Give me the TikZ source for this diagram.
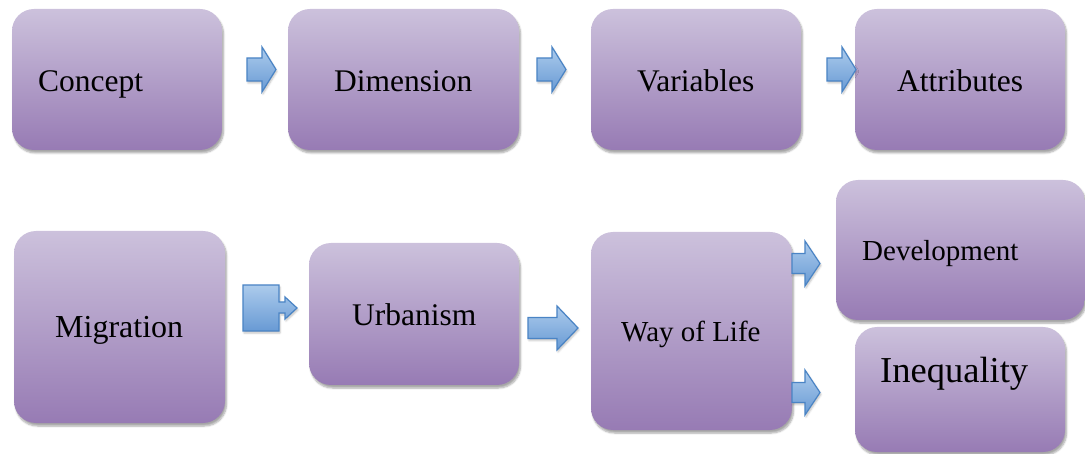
\documentclass[tikz,border=0pt]{standalone}
\usepackage{fontspec}
\setmainfont{Liberation Serif}
\newfontfamily\tnr{Liberation Serif}
\usetikzlibrary{shadows.blur}
\definecolor{boxtop}{RGB}{204,193,220}
\definecolor{boxbot}{RGB}{151,123,180}
\definecolor{arrtop}{RGB}{172,203,236}
\definecolor{arrbot}{RGB}{104,154,212}
\definecolor{arrline}{RGB}{74,132,197}
\newcommand\barr[6]{% x0, ymid, shaftlen, shafthalf, headlen, headhalf
  \path[barrow] (#1,#2-#4) -- (#1+#3,#2-#4) -- (#1+#3,#2-#6) -- (#1+#3+#5,#2)
    -- (#1+#3,#2+#6) -- (#1+#3,#2+#4) -- (#1,#2+#4) -- cycle;}
\begin{document}
\begin{tikzpicture}[x=1pt,y=-1pt,
  card/.style={rounded corners=22pt, top color=boxtop, bottom color=boxbot,
    draw=none, inner sep=0pt,
    blur shadow={shadow xshift=1.5pt, shadow yshift=-3pt, shadow blur steps=6, shadow opacity=35}},
  lbl/.style={anchor=base west, inner sep=0pt},
  barrow/.style={top color=arrtop, bottom color=arrbot, draw=arrline, line width=1.2pt,
    line join=miter,
    blur shadow={shadow xshift=1pt, shadow yshift=-2pt, shadow blur steps=4, shadow opacity=25}}]
\useasboundingbox (0,0) rectangle (1085,454);
% top row
\node[card, minimum width=210pt, minimum height=141pt] (concept) at (117,79.5) {};
\node[card, minimum width=231pt, minimum height=141pt] (dimension) at (403.5,79.5) {};
\node[card, minimum width=210pt, minimum height=141pt] (variables) at (696,79.5) {};
\node[card, minimum width=210pt, minimum height=141pt] (attributes) at (960,79.5) {};
\node[lbl, font=\tnr\fontsize{31.5}{36}\selectfont] (tconcept) at (38,92) {Concept};
\node[lbl, font=\tnr\fontsize{31.5}{36}\selectfont] (tdimension) at (334,92) {Dimension};
\node[lbl, font=\tnr\fontsize{31.5}{36}\selectfont] (tvariables) at (637,92) {Variables};
\node[lbl, font=\tnr\fontsize{31.5}{36}\selectfont] (tattributes) at (897,92) {Attributes};
\barr{247}{69.5}{15}{11.5}{14}{22.5}
\barr{537}{69.5}{15}{11.5}{14}{22.5}
\barr{827}{69.5}{15}{11.5}{14}{22.5}
% bottom row
\node[card, minimum width=211pt, minimum height=192pt] (migration) at (119.5,327) {};
\node[card, minimum width=210pt, minimum height=142pt] (urbanism) at (414,314) {};
\node[card, minimum width=201pt, minimum height=198pt] (wayoflife) at (691.5,331) {};
\node[card, minimum width=249pt, minimum height=140pt] (development) at (960.5,250) {};
\node[card, minimum width=210pt, minimum height=125pt] (inequality) at (960,389.5) {};
\node[lbl, font=\tnr\fontsize{32}{36}\selectfont] (tmigration) at (55,338) {Migration};
\node[lbl, font=\tnr\fontsize{31.5}{36}\selectfont] (turbanism) at (352,326) {Urbanism};
\node[lbl, font=\tnr\fontsize{29}{34}\selectfont] (twayoflife) at (621,342) {Way of Life};
\node[lbl, font=\tnr\fontsize{29}{34}\selectfont] (tdevelopment) at (862,261) {Development};
\node[lbl, font=\tnr\fontsize{36.5}{40}\selectfont] (tinequality) at (880,383) {Inequality};
% migration -> urbanism block arrow
\path[barrow] (243,285) -- (279,285) -- (279,302) -- (285,302) -- (285,297) -- (297,308)
  -- (285,319) -- (285,313) -- (279,313) -- (279,331) -- (243,331) -- cycle;
\barr{528}{328}{29}{10.5}{21}{22}
\barr{792}{263.5}{13}{10}{15}{22.5}
\barr{792}{392.5}{13}{10}{15}{22.5}
\end{tikzpicture}
\end{document}
